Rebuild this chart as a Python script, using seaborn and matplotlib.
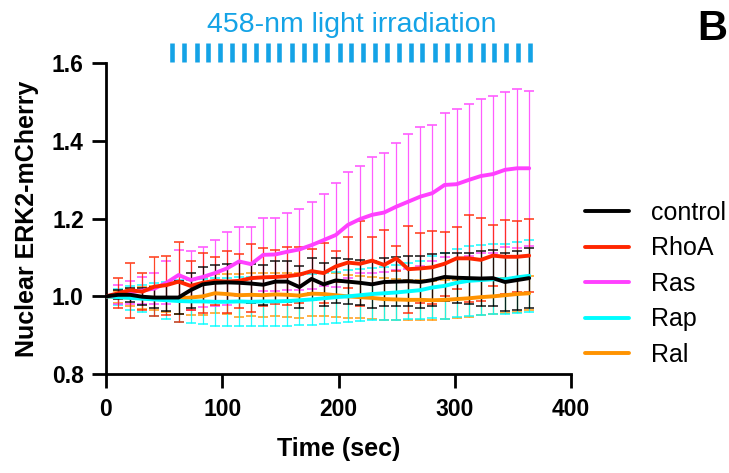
import numpy as np
import pandas as pd
import seaborn as sns
import matplotlib.pyplot as plt
from matplotlib.lines import Line2D

# time points (sec)
times = [0, 10.4, 20.8, 31.2, 41.6, 52.0, 62.4, 72.8, 83.2, 93.6, 104.0, 114.4,
         124.8, 135.2, 145.6, 156.0, 166.4, 176.8, 187.2, 197.6, 208.0, 218.4,
         228.8, 239.2, 249.6, 260.0, 270.4, 280.8, 291.2, 301.6, 312.0, 322.4,
         332.8, 343.2, 353.6, 364.0]

# light pulse times
light_times = [57, 67, 78, 88, 98, 108, 119, 129, 139, 149, 160, 170, 180, 190,
               201, 211, 221, 231, 242, 252, 262, 272, 283, 293, 303, 313, 324,
               334, 344, 354, 365]

groups = ["control", "RhoA", "Ras", "Rap", "Ral"]
colors = ["#000000", "#FF2600", "#FF40FF", "#00FDFF", "#FF9300"]

control_mean = [1.0, 1.004, 1.004, 0.999, 0.997, 0.997, 0.997, 1.016, 1.031, 1.035, 1.036, 1.035,
                1.033, 1.030, 1.038, 1.038, 1.024, 1.045, 1.031, 1.041, 1.038, 1.035,
                1.031, 1.037, 1.038, 1.039, 1.037, 1.042, 1.050, 1.048, 1.047, 1.046,
                1.047, 1.037, 1.042, 1.047]
control_sd = [0, 0.012, 0.018, 0.022, 0.026, 0.035, 0.042, 0.045, 0.045, 0.047, 0.048, 0.05,
              0.05, 0.052, 0.052, 0.053, 0.055, 0.055, 0.056, 0.057, 0.058, 0.058,
              0.06, 0.062, 0.063, 0.065, 0.066, 0.066, 0.062, 0.064, 0.066, 0.07,
              0.072, 0.075, 0.076, 0.077]

rhoa_mean = [1.0, 1.008, 1.016, 1.012, 1.025, 1.029, 1.038, 1.027, 1.035, 1.04, 1.038, 1.04,
             1.047, 1.049, 1.050, 1.052, 1.056, 1.065, 1.060, 1.077, 1.087, 1.084,
             1.092, 1.081, 1.098, 1.070, 1.072, 1.075, 1.084, 1.098, 1.098, 1.094,
             1.105, 1.102, 1.102, 1.105]
rhoa_sd = [0, 0.039, 0.071, 0.048, 0.076, 0.076, 0.103, 0.063, 0.078, 0.061, 0.080, 0.069,
           0.088, 0.075, 0.070, 0.074, 0.072, 0.057, 0.077, 0.040, 0.065, 0.110,
           0.060, 0.089, 0.033, 0.112, 0.090, 0.094, 0.082, 0.080, 0.112, 0.107,
           0.079, 0.095, 0.091, 0.094]

ras_mean = [1.0, 1.005, 1.01, 1.015, 1.02, 1.035, 1.055, 1.042, 1.05, 1.06, 1.072, 1.09,
            1.083, 1.107, 1.108, 1.115, 1.121, 1.132, 1.145, 1.158, 1.184, 1.199,
            1.210, 1.216, 1.231, 1.244, 1.257, 1.266, 1.287, 1.289, 1.300, 1.310,
            1.315, 1.326, 1.330, 1.330]
ras_sd = [0, 0.025, 0.03, 0.035, 0.04, 0.055, 0.065, 0.076, 0.077, 0.085, 0.093, 0.088,
          0.095, 0.094, 0.093, 0.099, 0.104, 0.112, 0.119, 0.133, 0.137, 0.138,
          0.150, 0.153, 0.164, 0.174, 0.180, 0.176, 0.186, 0.193, 0.196, 0.199,
          0.202, 0.200, 0.205, 0.200]

rap_mean = [1.0, 0.998, 0.996, 0.994, 0.992, 0.99, 0.988, 0.987, 0.987, 0.986, 0.986, 0.987,
            0.986, 0.987, 0.987, 0.988, 0.99, 0.992, 0.995, 0.998, 1.0, 1.003,
            1.006, 1.008, 1.01, 1.013, 1.016, 1.023, 1.027, 1.035, 1.04, 1.042,
            1.044, 1.044, 1.049, 1.053]
rap_sd = [0, 0.02, 0.03, 0.035, 0.042, 0.048, 0.053, 0.056, 0.058, 0.062, 0.062, 0.063,
          0.063, 0.064, 0.064, 0.064, 0.065, 0.065, 0.066, 0.066, 0.067, 0.067,
          0.068, 0.068, 0.07, 0.072, 0.075, 0.08, 0.085, 0.088, 0.09, 0.09,
          0.09, 0.09, 0.092, 0.092]

ral_mean = [1.0, 0.998, 0.997, 0.996, 0.996, 0.995, 0.995, 0.997, 1.0, 1.008, 1.006, 1.003,
            1.004, 1.003, 1.005, 1.004, 1.002, 1.007, 1.006, 1.003, 1.0, 0.998,
            0.996, 0.993, 0.992, 0.991, 0.991, 0.990, 0.991, 0.993, 0.995, 0.998,
            1.0, 1.003, 1.006, 1.008]
ral_sd = [0, 0.015, 0.022, 0.028, 0.032, 0.035, 0.04, 0.045, 0.048, 0.05, 0.052, 0.055,
          0.055, 0.056, 0.056, 0.057, 0.057, 0.057, 0.056, 0.056, 0.055, 0.055,
          0.054, 0.054, 0.053, 0.052, 0.052, 0.05, 0.05, 0.048, 0.048, 0.047,
          0.046, 0.045, 0.045, 0.044]

means = [control_mean, rhoa_mean, ras_mean, rap_mean, ral_mean]
sds = [control_sd, rhoa_sd, ras_sd, rap_sd, ral_sd]

df = pd.concat([pd.DataFrame({"time": times, "value": m, "group": g})
                for g, m in zip(groups, means)], ignore_index=True)

sns.set_theme(style="ticks")
plt.rcParams["font.family"] = ["Liberation Sans", "DejaVu Sans"]
plt.rcParams["text.color"] = "black"
plt.rcParams["axes.labelcolor"] = "black"
plt.rcParams["xtick.color"] = "black"
plt.rcParams["ytick.color"] = "black"
plt.rcParams["axes.edgecolor"] = "black"

fig = plt.figure(figsize=(7.29, 4.73), dpi=100)
ax = fig.add_axes([0.1454, 0.2093, 0.6379, 0.6565])

sns.lineplot(data=df, x="time", y="value", hue="group", hue_order=groups,
             palette=colors, linewidth=2.8, errorbar=None, ax=ax)
for i, line in enumerate(ax.lines[:len(groups)]):
    line.set_zorder(10 - i)

for i, (g, c) in enumerate(zip(groups, colors)):
    ax.errorbar(times, means[i], yerr=sds[i], fmt="none", ecolor=c, elinewidth=0.9,
                capsize=3.5, capthick=1.2, alpha=0.85, zorder=4 - i * 0.1)

# light irradiation marks
ax.vlines(light_times, 1.605, 1.653, colors="#14A3E6", linewidth=3.3, clip_on=False)
fig.text(352 / 729, 1 - 25 / 473, "458-nm light irradiation", ha="center", va="center",
         fontsize=20.5, color="#14A3E6")
fig.text(712 / 729, 1 - 29 / 473, "B", ha="center", va="center", fontsize=30,
         fontweight="bold")

ax.set_xlim(0, 400)
ax.set_ylim(0.8, 1.6)
ax.set_xticks([0, 100, 200, 300, 400])
ax.set_yticks([0.8, 1.0, 1.2, 1.4, 1.6])
ax.set_yticklabels(["0.8", "1.0", "1.2", "1.4", "1.6"])
ax.set_xlabel("Time (sec)", fontsize=18, fontweight="bold", labelpad=12)
ax.set_ylabel("Nuclear ERK2-mCherry", fontsize=18, fontweight="bold", labelpad=9)
ax.tick_params(axis="both", length=10, width=2, labelsize=16.5, direction="out")
ax.tick_params(axis="x", pad=7)
ax.tick_params(axis="y", pad=6)
for lab in ax.get_xticklabels() + ax.get_yticklabels():
    lab.set_fontweight("bold")
for side in ["left", "bottom"]:
    ax.spines[side].set_linewidth(2)
sns.despine(ax=ax)

handles = [Line2D([], [], color=c, linewidth=2.8) for c in colors]
ax.legend(handles, groups, loc="center left", bbox_to_anchor=(1.03, 0.29),
          frameon=False, fontsize=18, handlelength=1.75, handletextpad=0.9,
          labelspacing=0.46, borderpad=0, borderaxespad=0)

fig.savefig("out.png", dpi=100)
